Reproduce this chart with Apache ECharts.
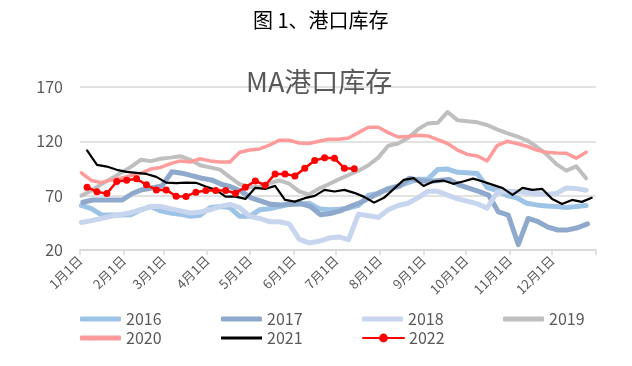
<!DOCTYPE html>
<html>
<head>
<meta charset="utf-8">
<script src="https://cdn.jsdelivr.net/npm/echarts@6/dist/echarts.min.js"></script>
<style>
html,body{margin:0;padding:0;background:#fff;}
#chart{width:632px;height:366px;}
</style>
</head>
<body>
<div id="chart"></div>
<script>
// Month tick positions (day of year) and labels
const monthTicks = [0, 31, 59, 90, 120, 151, 181, 212, 243, 273, 304, 334, 365];
const monthLabels = ['1月1日','2月1日','3月1日','4月1日','5月1日','6月1日','7月1日','8月1日','9月1日','10月1日','11月1日','12月1日'];

const years = ['2016','2017','2018','2019','2020','2021','2022'];
// day of year of the first weekly observation, per series
const firstDay = [1, 2, 1, 1, 1, 5, 5];

// weekly values
const v2016 = [61,58,52.5,52.3,52.3,52.5,57,60,56,54,53,51,52,59,60,59,51,51,57,58,60,62,62,63,58,57,57.5,58.5,61,70.5,72,76.5,79,82,85,85,94,94.5,91.5,91,90.5,77.5,75,70,68,63,61.5,60.5,60,59,60,61];
const v2017 = [64,66,66,66,66,72,75.5,77,79,92,90.7,88.5,86,84.5,80.5,78,74,68,65,62,61.5,62,63,60,52.5,53.5,56,60,63.5,68,73,76.5,78.5,86,84,83,84,85,80,77,74,70.5,55,52,25,49,46,41,38.4,38.5,40.5,44];
const v2018 = [45.3,47,49,51,52.5,54.5,57,60,60,58,56,54,55,57,60,62,59,51,49,46,46,44,30,26.5,28,31,32,29.5,53,51.5,50,57,61,63,68,74,74,70.5,67,65,62.5,58.5,73,74,73.5,73,72,71,72,77,76.5,75];
const v2019 = [70,74.5,80.5,85.5,91,96.5,103,101.8,104,105,106.3,103,98,96,94,87,80.5,78,78,81.5,84,81,74,71,76.5,80.5,85,89,93,98,105,116,118,123,131,136.5,137,147,139.5,138.5,137.5,135,131,127.5,124.5,121,115,108,99,93,97,86];
const v2020 = [91,84,82,84.5,86,88.5,90.5,94.5,96,99.5,102,101,104,102,101,101,110,112,113,116.5,121,121,118.5,118,120,122,122,123,128,133,133,128,124,124.5,125.5,125,121.5,118,112,108,106.5,102,116,120,118,115.5,112,110,109.2,109,104.5,110];
const v2021 = [111.6,98.4,96.8,93.8,91.9,91,90,87.3,82,81.5,82,81.8,78.4,75.3,69.1,69.1,67,77.2,76.2,79,66.1,64.5,67.7,69.8,75.3,73.8,75.3,72.6,68.9,63.6,68,76.2,84.5,86.1,79,83,83.9,80.9,83,85.7,83,79.9,76.9,70.7,77.2,75.3,76.2,67,62.4,66.1,64.3,68];
const v2022 = [77.8,73.5,71.9,83,84.2,85.5,80,75.3,75.3,69.5,69.3,73.2,74.7,74.7,74.7,72.3,77.8,83.6,79.6,90,90,88.2,95.3,102.3,104.8,104.4,95.3,94.7];

const values = [v2016, v2017, v2018, v2019, v2020, v2021, v2022];
const colors = ['#9DC3E6','#8FA9CD','#C7D5EE','#BFBFBF','#FF9B9B','#000000','#FF0000'];
const widths = [5, 5, 5, 4, 3.5, 2.2, 2.5];

// legend layout: column x and row center y for each series
const legendLeft = [80, 221, 362, 503, 80, 221, 362];
const legendRow  = [0, 0, 0, 0, 1, 1, 1];

const FONT = 'Noto Sans CJK SC';

const series = years.map((name, k) => ({
  name: name,
  type: 'line',
  data: values[k].map((v, i) => [firstDay[k] + 7 * i, v]),
  symbol: k === 6 ? 'circle' : 'none',
  symbolSize: 7,
  showSymbol: k === 6,
  itemStyle: { color: colors[k] },
  lineStyle: { color: colors[k], width: widths[k], cap: 'round', join: 'round' },
  animation: false
}));

const legends = years.map((name, k) => {
  const lg = {
    left: legendLeft[k],
    top: legendRow[k] === 0 ? 311 : 330,
    padding: 0,
    itemWidth: 41,
    itemHeight: k === 6 ? 11 : (k === 5 ? 3 : 5),
    textStyle: { fontFamily: FONT, fontSize: 16, color: '#595959' },
    data: [name]
  };
  if (k < 6) lg.icon = k === 5 ? 'rect' : 'roundRect';
  return lg;
});

const chart = echarts.init(document.getElementById('chart'), null, { renderer: 'canvas' });
chart.setOption({
  backgroundColor: '#ffffff',
  animation: false,
  title: [
    { text: '图 1、港口库存', left: 253, top: 10, padding: 0,
      textStyle: { fontFamily: FONT, fontSize: 20, fontWeight: 'normal', color: '#000' } },
    { text: 'MA港口库存', left: 246, top: 68, padding: 0,
      textStyle: { fontFamily: FONT, fontSize: 27, fontWeight: 'normal', color: '#595959' } }
  ],
  legend: legends,
  grid: { left: 80, right: 36, top: 87, bottom: 116, containLabel: false },
  xAxis: {
    type: 'value',
    min: 0,
    max: 365,
    axisLine: { show: true, lineStyle: { color: '#D9D9D9', width: 1.5 } },
    axisTick: { show: true, length: 5, lineStyle: { color: '#D9D9D9', width: 1.5 }, customValues: monthTicks },
    axisLabel: {
      customValues: monthTicks.slice(0, 12),
      rotate: 45,
      margin: 8,
      fontFamily: FONT,
      fontSize: 13,
      color: '#595959',
      formatter: function (val) {
        const idx = monthTicks.indexOf(val);
        return idx >= 0 && idx < monthLabels.length ? monthLabels[idx] : '';
      }
    },
    splitLine: { show: false }
  },
  yAxis: {
    type: 'value',
    min: 20,
    max: 170,
    interval: 50,
    axisLine: { show: false },
    axisTick: { show: false },
    axisLabel: { fontFamily: FONT, fontSize: 16, color: '#595959', margin: 17 },
    splitLine: { lineStyle: { color: '#D9D9D9', width: 1.5 } }
  },
  series: series
});
</script>
</body>
</html>
